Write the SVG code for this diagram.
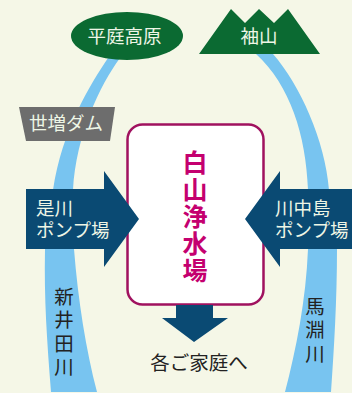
<svg xmlns="http://www.w3.org/2000/svg" width="352" height="393" viewBox="0 0 352 393">
<style>
text{font-family:"Noto Sans CJK JP","Noto Sans",sans-serif;text-anchor:middle}
.l{fill:#eef6e6;font-size:18.5px}
.s{text-anchor:start}
.d{fill:#222;font-size:19.500px}
.v{writing-mode:vertical-rl;text-anchor:start;letter-spacing:3.800px}
.m{fill:#c4006f;font-size:25px;font-weight:700;writing-mode:vertical-rl;text-anchor:start;letter-spacing:2px}
.a{fill:#0a4a73}
.r{fill:#78c4f0}
</style>
<rect width="352" height="393" fill="#f5f7e7"/>
<g id="connectors">
<path id="river-left-top" class="r" d="M108 58L120 58C100 85 76 135 73 190L53 190C62 130 90 85 108 58Z"/>
<path id="river-left" class="r" d="M45 249L74 249C78 300 86 350 97 392L51 392C47 340 44 300 45 249Z"/>
<path id="river-right-top" class="r" d="M256 54L273 54C300 85 325 140 329 190L308 190C306 135 290 85 256 54Z"/>
<path id="river-right" class="r" d="M308 249L337 249C337 300 334 350 331 392L285 392C296 350 306 300 308 249Z"/>
</g>
<g id="hiraniwa"><ellipse cx="127" cy="36" rx="56" ry="24" fill="#0b6a32"/><text class="l" x="124.500" y="43">平庭高原</text></g>
<g id="sodeyama"><path d="M199 54L231 9L245 23L259 9L274 23L288 9L320 54Z" fill="#0b6a32"/><text class="l" x="259" y="43">袖山</text></g>
<g id="dam"><path d="M19 107H115L110 141H26Z" fill="#6d6d6d"/><text class="l" x="66" y="130">世増ダム</text></g>
<g id="plant"><rect x="127.500" y="124.500" width="136" height="180" rx="15" fill="#fff" stroke="#a0125f" stroke-width="2.500"/>
<text class="m" x="195" y="149.500">白山浄水場</text></g>
<g id="korekawa"><path class="a" d="M26 189H104V171L139 219L104 267V249H26Z"/><text class="l s" y="215"><tspan x="36">是川</tspan><tspan x="36" y="237">ポンプ場</tspan></text></g>
<g id="kawanakajima"><path class="a" d="M352 189H280V171L245 219L280 267V249H352Z"/><text class="l s" y="215"><tspan x="275">川中島</tspan><tspan x="275" y="237">ポンプ場</tspan></text></g>
<g id="homes"><path class="a" d="M176 305H213V318H228L194 342L162 318H176Z"/><text class="d" x="199" y="370">各ご家庭へ</text></g>
<g id="niida"><text class="d v" x="64" y="287">新井田川</text></g>
<g id="mabuchi"><text class="d v" x="315" y="297">馬淵川</text></g>
</svg>
